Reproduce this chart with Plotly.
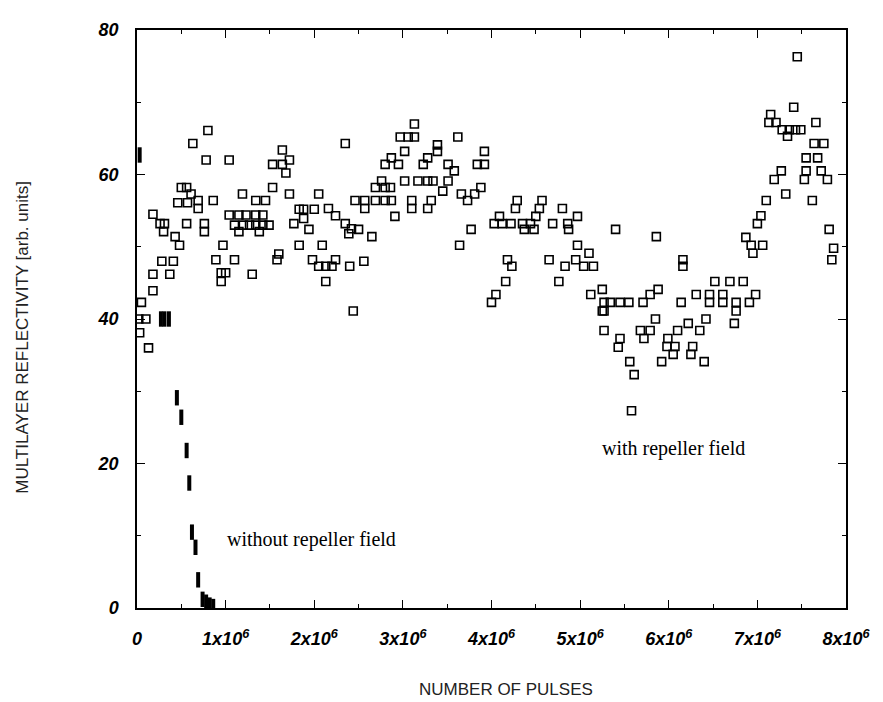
import plotly.graph_objects as go

# with repeller field (open squares); x in units of 1e6 pulses
with_x = [0.02, 0.1, 0.05, 0.18, 0.18, 0.03, 0.13, 0.37, 0.28, 0.41, 0.18, 0.26, 0.31, 0.3, 0.43, 0.48,
          0.5, 0.56, 0.46, 0.57, 0.61, 0.69, 0.69, 0.86, 0.63, 0.8, 0.78, 1.04, 0.56, 0.76, 0.76, 0.97,
          0.89, 1.1, 0.95, 1.0, 0.95, 1.3, 1.19, 1.34, 1.45, 1.04, 1.15, 1.23, 1.34, 1.42,
          1.1, 1.2, 1.27, 1.34, 1.42, 1.49, 1.15, 1.38, 1.53, 1.64, 1.72, 1.53, 1.64, 1.68, 1.72,
          1.6, 1.58, 1.83, 1.88, 2.0, 1.77, 1.88, 1.94, 1.83, 2.09, 1.98, 2.05, 2.13, 2.24, 2.2, 2.13,
          2.05, 2.16, 2.24, 2.35, 2.42, 2.39, 2.5, 2.65, 2.4, 2.56, 2.35, 2.44,
          2.46, 2.57, 2.69, 2.8, 2.87, 2.57, 2.91, 2.69, 2.76, 2.8, 2.86, 2.8, 2.87, 2.95, 3.02, 3.02,
          2.97, 3.06, 3.13, 3.13, 3.1, 3.1, 3.17, 3.28, 3.34, 3.23, 3.28, 3.39, 3.39, 3.28, 3.32,
          3.45, 3.51, 3.51, 3.58, 3.62, 3.66, 3.73, 3.81, 3.88, 3.84, 3.92, 3.92, 3.77, 3.64,
          4.29, 4.57, 4.27, 4.54, 4.09, 4.5, 4.97, 4.03, 4.12, 4.22, 4.35, 4.44, 4.37, 4.48,
          4.69, 4.86, 4.87, 4.8, 5.4, 5.86, 4.97, 5.1, 4.18, 4.23, 4.65, 4.83, 4.95, 5.04, 5.15,
          6.16, 6.16, 4.16, 4.76, 4.05, 4.0, 5.12, 5.25, 5.27, 5.34, 5.45, 5.55, 5.27,
          5.71, 5.79, 5.88, 6.14, 5.85, 6.52, 6.69, 6.84, 6.31, 6.46, 6.61, 6.98,
          6.46, 6.61, 6.76, 6.91, 6.76, 6.42, 6.74,
          7.45, 7.41, 7.66, 7.15, 7.13, 7.21, 7.28, 7.36, 7.43, 7.49, 7.34, 7.64, 7.75, 7.55, 7.68,
          7.55, 7.72, 7.19, 7.27, 7.53, 7.79, 7.1, 7.32, 7.62, 7.04, 7.0, 6.87, 6.93, 7.06, 6.95,
          7.81, 7.86, 7.84,
          5.25, 5.27, 5.45, 5.43, 5.68, 5.79, 5.72, 5.99, 6.1, 6.22, 6.35, 5.98, 6.07, 6.27,
          6.05, 6.25, 5.56, 5.92, 6.4, 5.61, 5.58]
with_y = [40.0, 40.0, 42.3, 43.9, 46.2, 38.1, 36.0, 46.2, 48.0, 48.0, 54.5, 53.2, 53.2, 52.1, 51.4, 50.2,
          58.2, 58.2, 56.1, 56.1, 57.3, 56.4, 55.3, 56.4, 64.3, 66.1, 62.0, 62.0, 53.2, 53.2, 52.1, 50.2,
          48.2, 48.2, 46.4, 46.4, 45.2, 46.2, 57.3, 56.4, 56.4, 54.4, 54.4, 54.4, 54.4, 54.4,
          53.0, 53.0, 53.0, 53.0, 53.0, 53.0, 52.1, 52.1, 58.2, 63.4, 62.0, 61.4, 61.4, 60.2, 57.3,
          49.0, 48.2, 55.2, 55.2, 55.2, 53.2, 53.9, 52.4, 50.2, 50.2, 48.2, 47.3, 47.3, 48.2, 47.3, 45.2,
          57.3, 55.3, 54.3, 53.2, 52.5, 51.8, 52.4, 51.4, 47.3, 48.0, 64.3, 41.1,
          56.4, 56.4, 56.4, 56.4, 56.4, 55.3, 54.2, 58.2, 59.1, 58.2, 58.2, 61.4, 62.3, 61.4, 63.2, 59.1,
          65.2, 65.2, 65.2, 67.0, 56.4, 55.3, 59.1, 59.1, 59.1, 61.4, 62.3, 64.1, 63.2, 55.3, 56.4,
          57.7, 59.1, 61.4, 60.5, 65.2, 57.3, 56.4, 57.3, 58.2, 61.4, 61.4, 63.2, 52.4, 50.2,
          56.4, 56.4, 55.3, 55.3, 54.2, 54.2, 54.2, 53.2, 53.2, 53.2, 53.2, 53.2, 52.4, 52.4,
          53.2, 53.2, 52.4, 55.3, 52.4, 51.4, 50.2, 49.1, 48.2, 47.3, 48.2, 47.3, 48.2, 47.3, 47.3,
          48.2, 47.3, 45.2, 45.2, 43.4, 42.3, 43.4, 44.1, 42.3, 42.3, 42.3, 42.3, 41.1,
          42.3, 43.4, 44.1, 42.3, 40.0, 45.2, 45.2, 45.2, 43.4, 43.4, 43.4, 43.4,
          42.3, 42.3, 42.3, 42.3, 41.1, 40.0, 39.4,
          76.3, 69.3, 67.2, 68.3, 67.2, 67.2, 66.2, 66.2, 66.2, 66.2, 65.3, 64.3, 64.3, 62.3, 62.3,
          60.5, 60.5, 59.3, 60.5, 59.3, 59.3, 56.4, 57.3, 56.4, 54.3, 53.2, 51.3, 50.2, 50.2, 49.1,
          52.4, 49.8, 48.2,
          41.1, 38.4, 37.3, 36.1, 38.4, 38.4, 37.3, 37.3, 38.4, 39.4, 38.4, 36.2, 36.2, 36.2,
          35.1, 35.1, 34.1, 34.1, 34.1, 32.3, 27.3]

# without repeller field (filled marks)
without_x = [0.03, 0.27, 0.31, 0.36, 0.45, 0.5, 0.56, 0.59, 0.62, 0.66, 0.69, 0.74, 0.78, 0.82, 0.86]
without_y = [62.7, 40.0, 40.0, 40.0, 29.1, 26.4, 21.8, 17.3, 10.5, 8.4, 3.9, 1.2, 0.8, 0.4, 0.2]

x_tick_vals = [0, 1, 2, 3, 4, 5, 6, 7, 8]
x_tick_text = ["0", "1x10<sup>6</sup>", "2x10<sup>6</sup>", "3x10<sup>6</sup>", "4x10<sup>6</sup>",
               "5x10<sup>6</sup>", "6x10<sup>6</sup>", "7x10<sup>6</sup>", "8x10<sup>6</sup>"]
y_tick_vals = [0, 20, 40, 60, 80]
y_tick_text = ["0", "20", "40", "60", "80"]

SCALE = 1e6

fig = go.Figure()
fig.add_trace(go.Scatter(
    x=[v * SCALE for v in with_x], y=with_y, mode="markers",
    marker=dict(symbol="square-open", size=8, color="black", line=dict(width=1.6, color="black")),
    showlegend=False))
fig.add_trace(go.Scatter(
    x=[v * SCALE for v in without_x], y=without_y, mode="markers",
    marker=dict(symbol="line-ns", size=11, color="black", line=dict(width=4, color="black")),
    showlegend=False))

tickfont = dict(family="Liberation Sans", size=18, color="black", weight="bold", style="italic")

fig.update_xaxes(
    range=[0, 8 * SCALE], tickvals=[v * SCALE for v in x_tick_vals], ticktext=x_tick_text,
    ticks="inside", ticklen=8, tickwidth=1.2, tickcolor="black",
    minor=dict(ticks="inside", ticklen=4, dtick=0.5 * SCALE, tickcolor="black"),
    showline=True, linecolor="black", linewidth=1.5, mirror="ticks",
    showgrid=False, zeroline=False, tickfont=tickfont, ticklabelstandoff=14)
fig.update_yaxes(
    range=[0, 80], tickvals=y_tick_vals, ticktext=y_tick_text,
    ticks="inside", ticklen=8, tickwidth=1.2, tickcolor="black",
    minor=dict(ticks="inside", ticklen=4, dtick=10, tickcolor="black"),
    showline=True, linecolor="black", linewidth=1.5, mirror="ticks",
    showgrid=False, zeroline=False, tickfont=tickfont, ticklabelstandoff=13)

fig.add_annotation(x=6.05 * SCALE, y=22.1, text="with repeller field", showarrow=False,
                   font=dict(family="Liberation Serif", size=20, color="black"))
fig.add_annotation(x=1.97 * SCALE, y=9.5, text="without repeller field", showarrow=False,
                   font=dict(family="Liberation Serif", size=20, color="black"))
fig.add_annotation(xref="paper", yref="paper", x=0.52, y=-0.141, yanchor="middle",
                   text="NUMBER OF PULSES",
                   showarrow=False, font=dict(family="Liberation Sans", size=17, color="#222"))
fig.add_annotation(xref="paper", x=-0.161, xanchor="center", yref="paper", y=0.469,
                   yanchor="middle",
                   text="MULTILAYER REFLECTIVITY [arb. units]", textangle=-90,
                   showarrow=False, font=dict(family="Liberation Sans", size=17, color="#222"))

fig.update_layout(
    width=875, height=694, paper_bgcolor="white", plot_bgcolor="white",
    margin=dict(l=129, r=33, t=12, b=94), showlegend=False)

fig.write_html("out.html")
